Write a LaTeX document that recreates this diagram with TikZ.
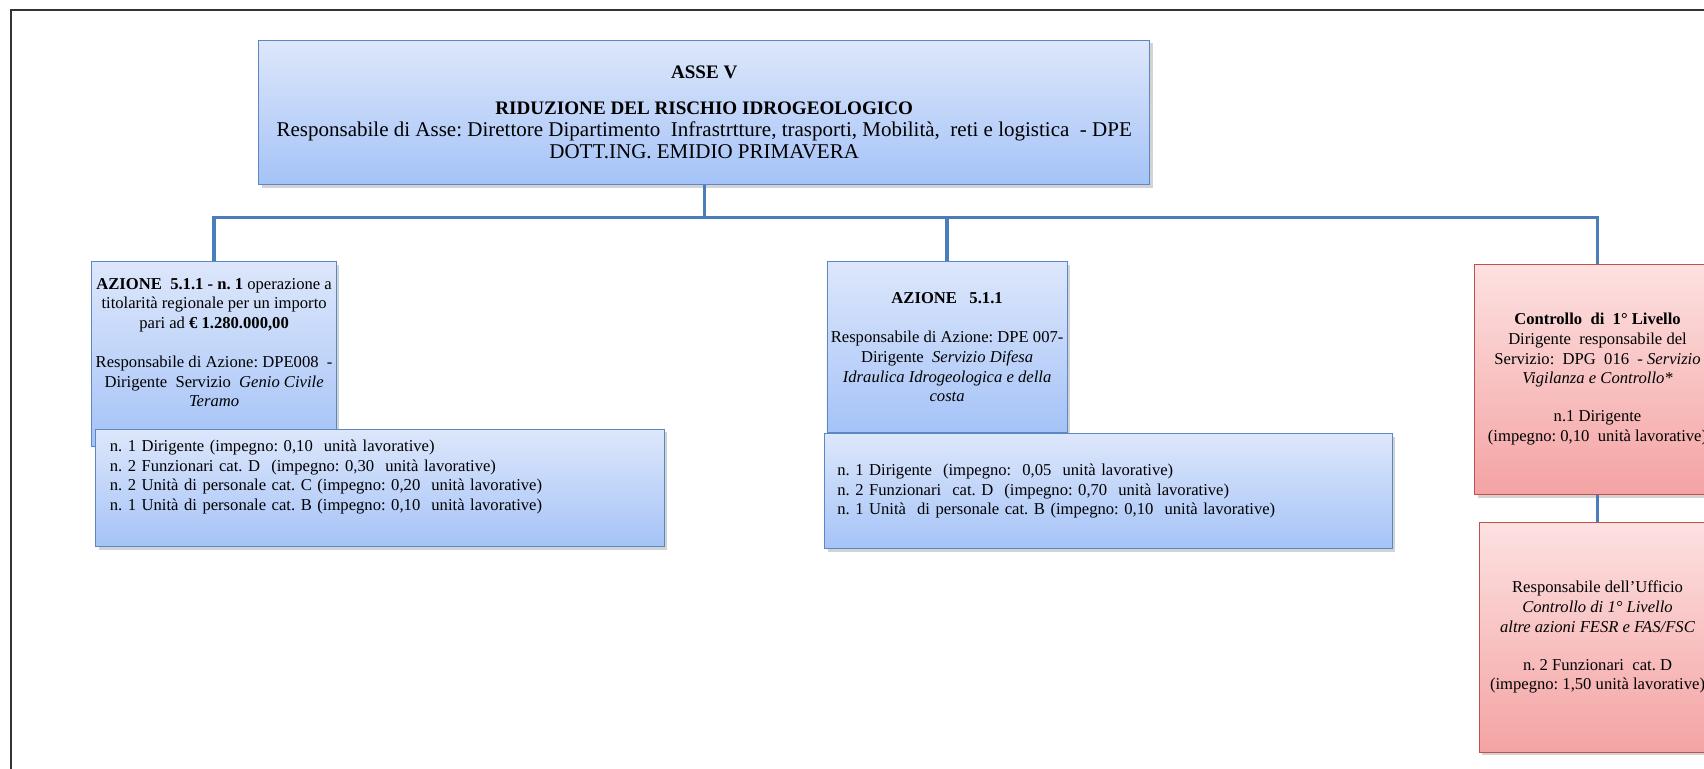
\documentclass[tikz,border=0pt]{standalone}
\usepackage{fontspec}
\setmainfont{Liberation Serif}
\usetikzlibrary{shadows,calc}
\frenchspacing

\definecolor{bluetop}{HTML}{DDE7FB}
\definecolor{bluebot}{HTML}{A5C3F7}
\definecolor{blueline}{HTML}{5B87C5}
\definecolor{redtop}{HTML}{FDE1E1}
\definecolor{redbot}{HTML}{F4A3A3}
\definecolor{redline}{HTML}{C0504D}
\definecolor{linkcol}{HTML}{4A7EBB}

\begin{document}
\begin{tikzpicture}[
    bluebox/.style={draw=blueline, line width=0.5pt, top color=bluetop, bottom color=bluebot,
      drop shadow={shadow xshift=1.6pt, shadow yshift=-1.6pt, opacity=0.35},
      align=center, inner sep=2pt, font=\fontsize{8.7}{10.3}\selectfont},
    redbox/.style={bluebox, draw=redline, top color=redtop, bottom color=redbot},
    staffbox/.style={bluebox, align=left, inner xsep=0.26cm},
    link/.style={draw=linkcol, line width=1.7pt}
  ]
  \useasboundingbox (0,0) rectangle (31.36,-14.152);
  \draw[line width=1.1pt, black!80] (0.21,-14.4) -- (0.21,-0.19) -- (31.6,-0.19);

  \node[bluebox, minimum width=16.4cm, minimum height=2.66cm, font=\fontsize{11}{11.4}\selectfont] (asse) at (12.96,-2.07)
    {{\fontsize{10}{11.4}\selectfont\bfseries ASSE V}\\[7.4pt]
     {\fontsize{10}{11.4}\selectfont\bfseries RIDUZIONE DEL RISCHIO IDROGEOLOGICO}\\
     Responsabile di Asse: Direttore Dipartimento\ \ Infrastrtture, trasporti, Mobilità,\ \ reti e logistica\ \ - DPE\\
     DOTT.ING. EMIDIO PRIMAVERA};

  \node[bluebox, minimum width=4.43cm, minimum height=3.4cm] (az1) at (3.94,-6.52)
    {\textbf{AZIONE\ \ 5.1.1 - n. 1} operazione a\\
     titolarità regionale per un importo\\
     pari ad \textbf{€ 1.280.000,00}\\[10.2pt]
     Responsabile di Azione: DPE008\ \ -\\
     Dirigente\ \ Servizio\ \ \textit{Genio Civile}\\
     \textit{Teramo}\\[2pt] \mbox{}};
  \node[staffbox, minimum width=10.46cm, minimum height=2.16cm, text width=9.94cm] (staff1) at (6.99,-8.98)
    {n. 1 Dirigente (impegno: 0,10\ \ unità lavorative)\\
     n. 2 Funzionari cat. D\ \ (impegno: 0,30\ \ unità lavorative)\\
     n. 2 Unità di personale cat. C (impegno: 0,20\ \ unità lavorative)\\
     n. 1 Unità di personale cat. B (impegno: 0,10\ \ unità lavorative)\\[3pt] \mbox{}};

  \node[bluebox, minimum width=4.42cm, minimum height=3.14cm] (az2) at (17.43,-6.39)
    {\textbf{AZIONE\ \ \ 5.1.1}\\[10.2pt]
     Responsabile di Azione: DPE 007-\\
     Dirigente\ \ \textit{Servizio Difesa}\\
     \textit{Idraulica Idrogeologica e della}\\
     \textit{costa}};
  \node[staffbox, minimum width=10.44cm, minimum height=2.12cm, text width=9.98cm, inner xsep=0.22cm] (staff2) at (20.40,-9.04)
    {n. 1 Dirigente\ \ (impegno:\ \ 0,05\ \ unità lavorative)\\
     n. 2 Funzionari\ \ cat. D\ \ (impegno: 0,70\ \ unità lavorative)\\
     n. 1 Unità\ \ di personale cat. B (impegno: 0,10\ \ unità lavorative)};

  \node[redbox, minimum width=4.52cm, minimum height=4.24cm] (ctrl) at (29.40,-6.98)
    {\textbf{Controllo\ \ di\ \ 1° Livello}\\
     Dirigente\ \ responsabile del\\
     Servizio:\ \ DPG\ \ 016\ \ - \textit{Servizio}\\
     \textit{Vigilanza e Controllo*}\\[9.6pt]
     n.1 Dirigente\\
     (impegno: 0,10\ \ unità lavorative)};
  \node[redbox, minimum width=4.36cm, minimum height=4.22cm] (uff) at (29.40,-11.73)
    {Responsabile dell'Ufficio\\
     \textit{Controllo di 1° Livello}\\
     \textit{altre azioni FESR e FAS/FSC}\\[9.6pt]
     n. 2 Funzionari\ \ cat. D\\
     (impegno: 1,50 unità lavorative)};

  \coordinate (bus) at ($(asse.south)+(0,-0.6)$);
  \draw[link] (asse.south) -- (bus);
  \draw[link] (bus) -| (az1.north);
  \draw[link] (bus) -| (az2.north);
  \draw[link] (bus) -| (ctrl.north);
  \draw[link] (ctrl.south) -- (uff.north);
\end{tikzpicture}
\end{document}
